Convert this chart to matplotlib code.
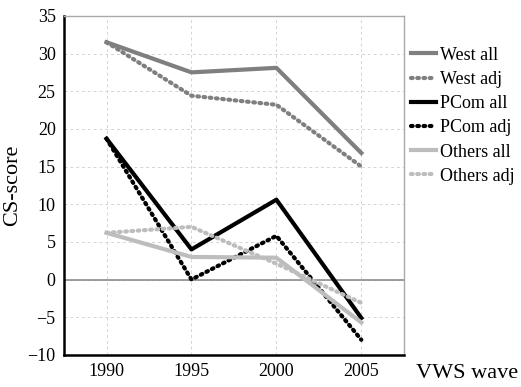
import matplotlib.pyplot as plt

plt.rcParams['font.family'] = 'Liberation Serif'

waves = [1990, 1995, 2000, 2005]
west_all = [31.5, 27.5, 28.1, 16.8]
west_adj = [31.5, 24.4, 23.2, 15.0]
pcom_all = [18.7, 4.0, 10.6, -5.1]
pcom_adj = [18.7, 0.0, 5.8, -8.0]
others_all = [6.2, 3.0, 2.9, -5.7]
others_adj = [6.2, 7.0, 2.1, -3.1]

fig = plt.figure(figsize=(5.21, 3.87), dpi=100)
ax = fig.add_axes([0.123, 0.083, 0.652, 0.876])

dark = '#7f7f7f'
light = '#bdbdbd'
dots = (0, (0.4, 1.1))
ax.plot(waves, west_all, color=dark, lw=3, label='West all')
ax.plot(waves, west_adj, color=dark, lw=3, ls=dots, dash_capstyle='round', label='West adj')
ax.plot(waves, pcom_all, color='black', lw=3, label='PCom all')
ax.plot(waves, pcom_adj, color='black', lw=3, ls=dots, dash_capstyle='round', label='PCom adj')
ax.plot(waves, others_all, color=light, lw=3, label='Others all')
ax.plot(waves, others_adj, color=light, lw=3, ls=dots, dash_capstyle='round', label='Others adj')

ax.axhline(0, color='#8c8c8c', lw=1.2, zorder=1)

ax.set_xlim(1987.5, 2007.5)
ax.set_ylim(-10, 35)
ax.set_xticks(waves)
ax.set_yticks(range(-10, 36, 5))
ax.grid(True, color='#d4d4d4', ls=(0, (3, 3)), lw=0.7)
ax.set_axisbelow(True)
ax.tick_params(length=0, labelsize=13, pad=6)

for s in ['top', 'right']:
    ax.spines[s].set_color('#aaaaaa')
    ax.spines[s].set_linewidth(1)
for s in ['left', 'bottom']:
    ax.spines[s].set_color('black')
    ax.spines[s].set_linewidth(1.8)

ax.set_ylabel('CS-score', fontsize=16, labelpad=4)
fig.text(0.995, 0.035, 'VWS wave', fontsize=16, ha='right', va='center')

fig.legend(loc='upper left', bbox_to_anchor=(0.775, 0.898), frameon=False,
           fontsize=13, handlelength=1.4, handletextpad=0.2, labelspacing=0.4,
           borderaxespad=0)

fig.savefig('out.png', dpi=100)
